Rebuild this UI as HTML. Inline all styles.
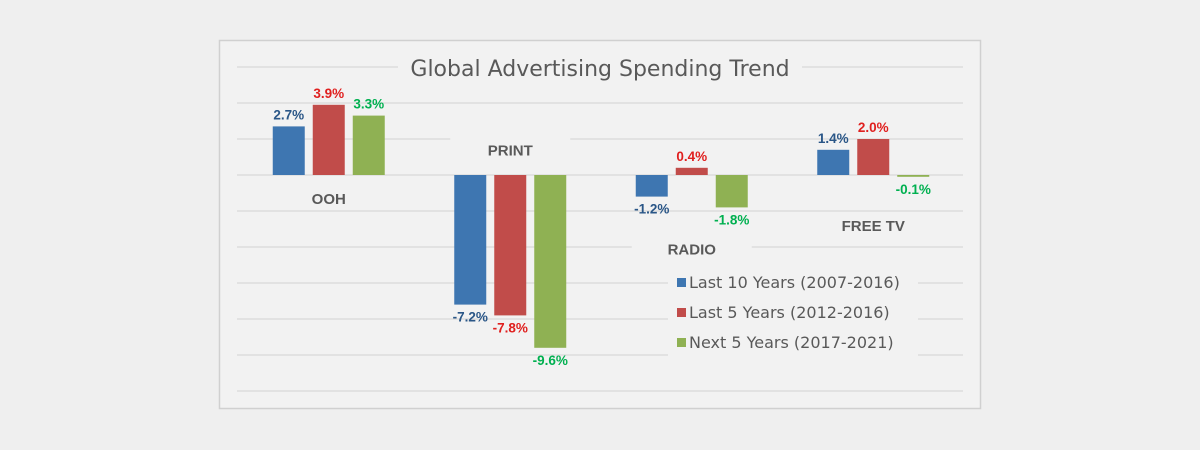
<!DOCTYPE html>
<html><head><meta charset="utf-8"><style>
body{margin:0;background:#efefef;}
svg{display:block;font-family:"Liberation Sans",sans-serif;}
</style></head><body>
<svg width="1200" height="450">
<rect x="0" y="0" width="1200" height="450" fill="#efefef"/>
<rect x="219.5" y="40.5" width="761" height="368" fill="#f2f2f2" stroke="#d0d0d0" stroke-width="1.5"/>
<g id="grid"></g>
<g id="bars"></g>
<g id="labels"></g>
<rect x="398" y="52" width="404" height="32" fill="#f2f2f2"/>
<text x="600" y="76" text-anchor="middle" font-size="22" fill="#595959" style="font-family:'DejaVu Sans',sans-serif">Global Advertising Spending Trend</text>
<g id="legend"></g>
</svg>
<script>
const categories=["OOH","PRINT","RADIO","FREE TV"];
const last10=[2.7,-7.2,-1.2,1.4];
const last5=[3.9,-7.8,0.4,2.0];
const next5=[3.3,-9.6,-1.8,-0.1];
const seriesNames=["Last 10 Years (2007-2016)","Last 5 Years (2012-2016)","Next 5 Years (2017-2021)"];
const gridTicks=[6,4,2,0,-2,-4,-6,-8,-10,-12];
const catLabelVals=[-1.5,1.2,-4.3,-3];

const NS="http://www.w3.org/2000/svg";
const x0=237,x1=963,zeroY=175,pxPer=18;
const y=v=>zeroY-v*pxPer;
const step=(x1-x0)/categories.length;
const cx=i=>x0+step*(i+0.5)+1;
function mk(tag,attrs,parent,txt){const e=document.createElementNS(NS,tag);for(const k in attrs)e.setAttribute(k,attrs[k]);if(txt!==undefined)e.textContent=txt;document.getElementById(parent).appendChild(e);return e;}
gridTicks.forEach(t=>{
  const l=mk('line',{x1:x0,x2:x1,y1:y(t),y2:y(t),stroke:'#d9d9d9','stroke-width':1.3},'grid');
  
  
});
const series=[last10,last5,next5];
const fills=["#3e76b1","#c14c4a","#8fb153"];
const lblColors=["#2a5687","#e0201f","#00b050"];
const bw=32,gap=8;
series.forEach((s,si)=>{
  s.forEach((v,i)=>{
    const bx=cx(i)-(bw*1.5+gap)+si*(bw+gap);
    const top=Math.min(y(v),zeroY),h=Math.abs(y(v)-zeroY);
    const r=mk('rect',{x:bx,y:top,width:bw,height:Math.max(h,1.5),fill:fills[si]},'bars');
    
    
    const ty=v>=0?y(v)-7:y(v)+17;
    const t=mk('text',{x:bx+bw/2,y:ty,'text-anchor':'middle','font-size':13.5,'font-weight':'bold',fill:lblColors[si]},'labels',(v.toFixed(1))+'%');
    
    
  });
});
categories.forEach((c,i)=>{
  const ly=y(catLabelVals[i]);
  const bg=mk('rect',{x:cx(i)-60,y:ly-16,width:120,height:24,fill:'#f2f2f2'},'labels');
  
  
  const t=mk('text',{x:cx(i),y:ly+2,'text-anchor':'middle','font-size':15,'font-weight':'bold',fill:'#595959'},'labels',c);
  
  
});
const lg=mk('rect',{x:668,y:265,width:250,height:95,fill:'#f2f2f2'},'legend');


seriesNames.forEach((n,i)=>{
  const ry=283+i*30;
  const sq=mk('rect',{x:677,y:ry-5,width:9,height:9,fill:fills[i]},'legend');
  
  
  const t=mk('text',{x:689,y:ry+5,'font-size':16,fill:'#595959',style:"font-family:'DejaVu Sans',sans-serif"},'legend',n);
  
  
});
</script>
</body></html>
